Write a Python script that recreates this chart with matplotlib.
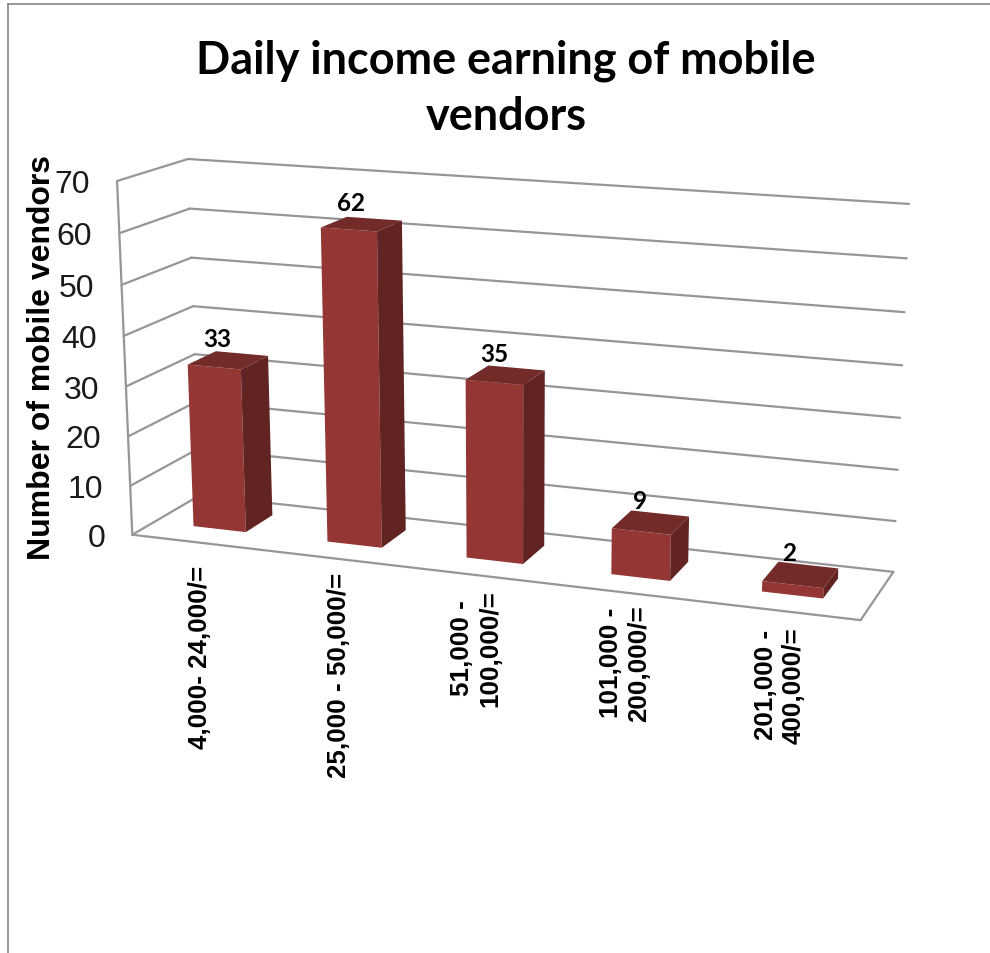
import numpy as np
import matplotlib
matplotlib.use("Agg")
import matplotlib.pyplot as plt

categories = ["4,000- 24,000/=", "25,000 - 50,000/=", "51,000 -\n100,000/=",
              "101,000 -\n200,000/=", "201,000 -\n400,000/="]
vendors = [33, 62, 35, 9, 2]
y_ticks = [0, 10, 20, 30, 40, 50, 60, 70]
y_max = 70

LINE = "#969696"
FRONT = "#943634"
TOP = "#722B29"
SIDE = "#612422"

# Chart box corners on the page, (across, value, depth) -> pixel
box_points = [
    ((0, 0, 0), (132, 534)),
    ((0, 70, 0), (117, 183)),
    ((0, 0, 1), (200, 498)),
    ((0, 70, 1), (188, 159)),
    ((1, 0, 1), (893, 572)),
    ((1, 70, 1), (909, 205)),
    ((1, 0, 0), (861, 622)),
]

# Solve the 3x4 perspective camera for the box
rows = []
for (u, v, w), (px, py) in box_points:
    X = [u, v / y_max, w, 1]
    rows.append(X + [0, 0, 0, 0] + [-px / 1000 * c for c in X])
    rows.append([0, 0, 0, 0] + X + [-py / 1000 * c for c in X])
camera = np.linalg.svd(np.array(rows))[2][-1].reshape(3, 4)


def project(u, v, w):
    h = camera @ np.array([u, v / y_max, w, 1])
    return h[0] / h[2] * 1000, h[1] / h[2] * 1000


fig = plt.figure(figsize=(9.9, 9.54), dpi=100)
ax = fig.add_axes([0, 0, 1, 1])
ax.set_xlim(0, 990)
ax.set_ylim(954, 0)
ax.axis("off")


def seg(a, b, color=LINE, lw=1.6):
    ax.plot([a[0], b[0]], [a[1], b[1]], color=color, lw=lw, solid_capstyle="round", zorder=1)


# Outer frame, left and top edges only
seg((7.5, 954), (7.5, 5), "#868686", 1.2)
seg((7.5, 5), (990, 5), "#868686", 1.2)

# Walls and floor
for t in y_ticks:
    seg(project(0, t, 0), project(0, t, 1))
    seg(project(0, t, 1), project(1, t, 1))
seg(project(0, 0, 0), project(0, y_max, 0))
seg(project(0, 0, 0), project(1, 0, 0))
seg(project(1, 0, 0), project(1, 0, 1))

for t in y_ticks:
    x, y = project(0, t, 0)
    ax.text(x - 27, y + 3, str(t), ha="right", va="center", fontsize=23,
            family="Liberation Sans", color="#1a1a1a")

# Bars, front face plus top and side
bar_w = 0.395
d0, d1 = 0.32, 0.74
for i, val in enumerate(vendors):
    u0 = (i + 0.495 - bar_w / 2) / len(vendors)
    u1 = (i + 0.495 + bar_w / 2) / len(vendors)
    a, b = project(u0, 0, d0), project(u1, 0, d0)
    c, d = project(u1, val, d0), project(u0, val, d0)
    e, f = project(u1, val, d1), project(u0, val, d1)
    g = project(u1, 0, d1)
    ax.fill(*zip(a, b, c, d), color=FRONT, lw=0, zorder=2)
    ax.fill(*zip(d, c, e, f), color=TOP, lw=0, zorder=2)
    ax.fill(*zip(b, g, e, c), color=SIDE, lw=0, zorder=2)

    tx, ty = project((u0 + u1) / 2, val, (d0 + d1) / 2)
    ax.text(tx - 11, ty - 22, str(val), ha="center", va="center", fontsize=17.5,
            family="Lato", fontweight="bold", color="black", zorder=3)

# Category labels
label_x = [200, 339, 476, 625, 780]
label_top = [566, 573, 590, 605, 627]
for name, x, y in zip(categories, label_x, label_top):
    ax.text(x, y, name, rotation=90, ha="center", va="top", ma="center",
            fontsize=18.7, fontweight="bold", family="Liberation Sans", linespacing=1.2)

ax.text(42, 358, "Number of mobile vendors", rotation=90, ha="center", va="center",
        fontsize=23, fontweight="bold", family="Liberation Sans")
ax.text(506, 89, "Daily income earning of mobile\nvendors", ha="center", va="center",
        fontsize=32.4, fontweight="bold", family="Lato", linespacing=1.4)

fig.savefig("out.png", dpi=100)
